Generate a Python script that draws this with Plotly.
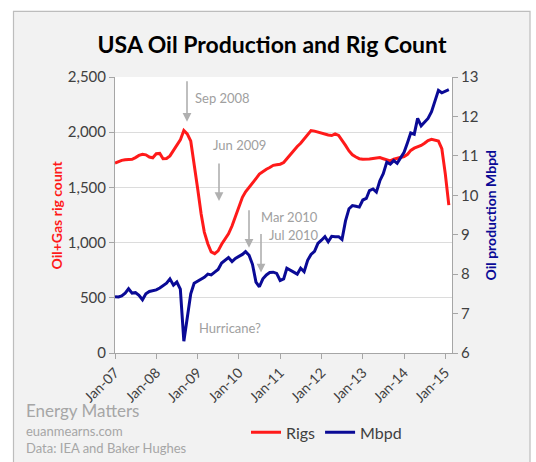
import pandas as pd
import plotly.graph_objects as go

# ---------------- data ----------------
months = pd.date_range("2007-01-01", periods=98, freq="MS")

rigs = [1720, 1735, 1745, 1750, 1752, 1755, 1770, 1790, 1800, 1795, 1775, 1768,
        1805, 1808, 1760, 1762, 1785, 1830, 1880, 1930, 2015, 1985, 1920, 1720,
        1490, 1260, 1095, 990, 915, 900, 925, 985, 1040, 1080, 1150, 1230,
        1310, 1410, 1460, 1500, 1530, 1580, 1620, 1645, 1665, 1680, 1700, 1705,
        1710, 1725, 1760, 1800, 1835, 1870, 1900, 1940, 1975, 2015, 2010, 2000,
        1995, 1985, 1975, 1970, 1985, 1970, 1930, 1880, 1830, 1795, 1775, 1760,
        1755, 1755, 1758, 1762, 1765, 1770, 1760, 1750, 1740, 1755, 1765, 1775,
        1780, 1800, 1835, 1855, 1865, 1880, 1900, 1925, 1935, 1930, 1920, 1850,
        1620, 1340]

mbpd = [7.43, 7.42, 7.45, 7.52, 7.63, 7.52, 7.53, 7.46, 7.35, 7.50, 7.56, 7.58,
        7.60, 7.65, 7.70, 7.77, 7.88, 7.72, 7.80, 7.62, 6.30, 6.90, 7.50, 7.77,
        7.82, 7.86, 7.92, 8.00, 7.98, 8.05, 8.12, 8.28, 8.36, 8.42, 8.32, 8.40,
        8.45, 8.50, 8.57, 8.48, 8.25, 7.80, 7.68, 7.88, 7.98, 8.04, 8.05, 8.02,
        7.84, 7.88, 8.15, 8.10, 8.04, 8.00, 8.15, 8.06, 8.35, 8.50, 8.58, 8.78,
        8.86, 8.95, 8.82, 8.96, 8.95, 8.95, 8.88, 9.35, 9.66, 9.74, 9.72, 9.70,
        9.88, 9.92, 10.12, 10.16, 10.08, 10.37, 10.55, 10.84, 10.79, 10.88, 10.81, 10.96,
        11.09, 11.34, 11.58, 11.55, 11.95, 11.76, 11.85, 11.95, 12.12, 12.38, 12.66, 12.60,
        12.63, 12.68]

left_ticks = [0, 500, 1000, 1500, 2000, 2500]
right_ticks = [6, 7, 8, 9, 10, 11, 12, 13]
year_ticks = pd.date_range("2007-01-01", "2015-01-01", freq="YS")

# ---------------- layout helpers ----------------
W, H = 536, 462
L, R, T, B = 115, 452, 77, 355


def px(x):
    return (x - L) / (R - L)


def py(y):
    return (B - y) / (B - T)


FONT = "Lato"
GRAY_TXT = "#404040"
ANN_GRAY = "#a0a0a0"
AX_GRAY = "#a6a6a6"

fig = go.Figure()
fig.add_trace(go.Scatter(x=months, y=rigs, name="Rigs", mode="lines",
                         line=dict(color="#ff1a1a", width=3)))
fig.add_trace(go.Scatter(x=months, y=mbpd, name="Mbpd", mode="lines", yaxis="y2",
                         line=dict(color="#0a0a96", width=3)))

shapes = [
    dict(type="rect", xref="paper", yref="paper", layer="below",
         x0=px(13.5), x1=px(530), y0=py(475), y1=py(11),
         fillcolor="#f2f2f2", line=dict(color="#bdbdbd", width=1.2)),
    dict(type="rect", xref="paper", yref="paper", layer="below",
         x0=0, x1=1, y0=0, y1=1, fillcolor="white", line=dict(width=0)),
]

anns = []
# axis titles
anns.append(dict(text="<b>Oil+Gas rig count</b>", xref="paper", yref="paper",
                 x=px(45), y=py(216), textangle=-90, showarrow=False,
                 font=dict(family=FONT, size=14, color="#ff1a1a")))
anns.append(dict(text="<b>Oil production Mbpd</b>", xref="paper", yref="paper",
                 x=px(500), y=py(216), textangle=-90, showarrow=False,
                 font=dict(family=FONT, size=14, color="#0a0a96")))

# event arrows
for hx, hy, tail in [(187, 122, 42), (219, 202, 39), (249, 249, 39), (261, 274, 40)]:
    anns.append(dict(text="", xref="paper", yref="paper", x=px(hx), y=py(hy),
                     ax=0, ay=-tail, showarrow=True, arrowhead=2, arrowsize=1.1,
                     arrowwidth=1.6, arrowcolor="#b0b0b0"))

# event labels
for txt, lx, ly in [("Sep 2008", 193, 98), ("Jun 2009", 211, 145),
                    ("Mar 2010", 259, 218), ("Jul 2010", 267, 236),
                    ("Hurricane?", 197, 330)]:
    anns.append(dict(text=txt, xref="paper", yref="paper", x=px(lx), y=py(ly),
                     xanchor="left", yanchor="middle", showarrow=False,
                     font=dict(family=FONT, size=13, color=ANN_GRAY)))

# source text
for txt, ty, sz in [("Energy Matters", 413, 17), ("euanmearns.com", 434, 13),
                    ("Data: IEA and Baker Hughes", 451, 13)]:
    anns.append(dict(text=txt, xref="paper", yref="paper", x=px(24), y=py(ty),
                     xanchor="left", yanchor="middle", showarrow=False,
                     font=dict(family=FONT, size=sz, color="#a6a6a6")))

fig.update_layout(
    width=W, height=H,
    margin=dict(l=L, r=W - R, t=T, b=H - B, pad=0),
    paper_bgcolor="white", plot_bgcolor="white",
    title=dict(text="<b>USA Oil Production and Rig Count</b>", x=272 / W,
               xanchor="center", y=1 - 45 / H, yanchor="middle", yref="container",
               font=dict(family=FONT, size=23, color="black")),
    font=dict(family=FONT, size=14, color=GRAY_TXT),
    showlegend=True,
    legend=dict(orientation="h", x=px(246), y=py(435), xanchor="left", yanchor="middle",
                bgcolor="rgba(0,0,0,0)", font=dict(family=FONT, size=16, color=GRAY_TXT),
                itemwidth=30),
    xaxis=dict(type="date", range=["2007-01-01", "2015-03-01"],
               tickvals=list(year_ticks), tickformat="%b-%y", tickangle=-45,
               showgrid=False, showline=True, linecolor=AX_GRAY, linewidth=1,
               ticks="outside", ticklen=5, tickcolor=AX_GRAY,
               tickfont=dict(family=FONT, size=14, color=GRAY_TXT), zeroline=False),
    yaxis=dict(range=[0, 2500], tickvals=left_ticks, tickformat=",",
               showgrid=True, gridcolor="#dcdcdc", gridwidth=1,
               showline=True, linecolor=AX_GRAY, ticks="outside", ticklen=5,
               tickcolor=AX_GRAY, zeroline=False,
               tickfont=dict(family=FONT, size=15, color=GRAY_TXT)),
    yaxis2=dict(range=[6, 13], tickvals=right_ticks, overlaying="y", side="right",
                showgrid=False, showline=True, linecolor=AX_GRAY, ticks="outside",
                ticklen=5, tickcolor=AX_GRAY, zeroline=False,
                tickfont=dict(family=FONT, size=15, color=GRAY_TXT)),
    shapes=shapes,
    annotations=anns,
)

fig.write_html("out.html")
